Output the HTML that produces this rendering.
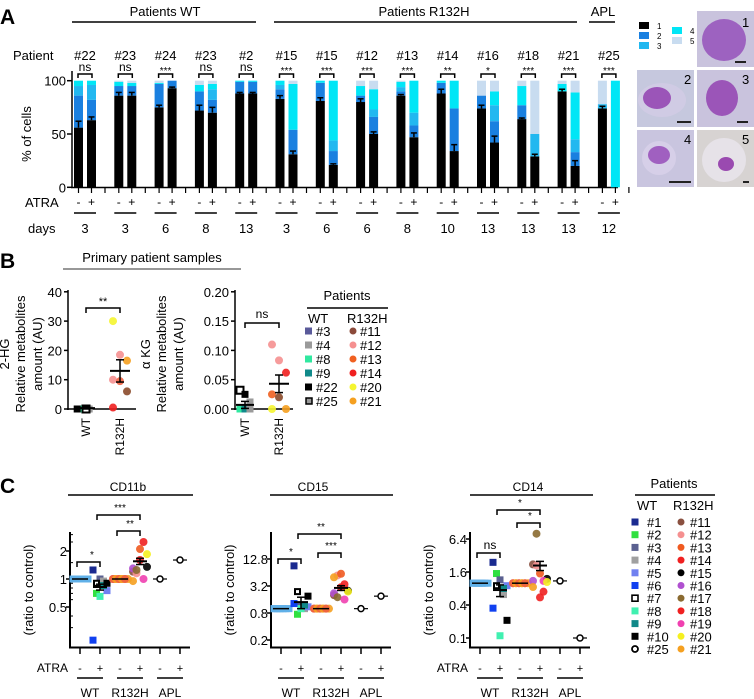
<!DOCTYPE html>
<html><head><meta charset="utf-8">
<style>
html,body{margin:0;padding:0;background:#fff;}
svg{display:block;font-family:"Liberation Sans",Arial,sans-serif;}
</style></head>
<body>
<svg id="fig" width="754" height="699" viewBox="0 0 754 699" xmlns="http://www.w3.org/2000/svg">
  <g id="cells">
    <rect x="697" y="11" width="57" height="56" fill="#c9c3dd"/>
    <ellipse cx="724" cy="40" rx="22" ry="21" fill="#9d62c0"/>
    <text x="742" y="27" font-size="13">1</text>
    <rect x="735" y="61" width="11" height="2" fill="#222"/>
    <rect x="637" y="70" width="57" height="57" fill="#c6c8de"/>
    <ellipse cx="662" cy="100" rx="24" ry="17" fill="#d0cbe4"/>
    <ellipse cx="657" cy="98" rx="14" ry="11" fill="#9b55b8"/>
    <text x="684" y="84" font-size="13">2</text>
    <rect x="677" y="121" width="14" height="2" fill="#222"/>
    <rect x="697" y="70" width="57" height="57" fill="#c9c3dd"/>
    <ellipse cx="722" cy="98" rx="16" ry="18" fill="#9b55b8"/>
    <text x="742" y="84" font-size="13">3</text>
    <rect x="737" y="121" width="11" height="2" fill="#222"/>
    <rect x="637" y="130" width="57" height="57" fill="#c9c5df"/>
    <circle cx="659" cy="158" r="17" fill="#d6cfe8"/>
    <ellipse cx="659" cy="155" rx="11" ry="9" fill="#a060c0"/>
    <text x="684" y="144" font-size="13">4</text>
    <rect x="669" y="181" width="22" height="2" fill="#222"/>
    <rect x="697" y="130" width="57" height="57" fill="#d7d3d2"/>
    <circle cx="724" cy="160" r="22" fill="#e6e2e8"/>
    <ellipse cx="726" cy="164" rx="8" ry="7" fill="#9a4ab0"/>
    <text x="742" y="144" font-size="13">5</text>
    <rect x="743" y="181" width="6" height="2" fill="#222"/>
  </g>
</svg>
<script>
// ---------- Panel A data ----------
const aPatients = ['#22','#23','#24','#23','#2','#15','#15','#12','#13','#14','#16','#18','#21','#25'];
const aDays = ['3','3','6','8','13','3','6','6','8','10','13','13','13','12'];
const aSig = ['ns','ns','***','ns','ns','***','***','***','***','**','*','***','***','***'];
const aMinus = [[56,30,9,5,0],[86,9,0,4,1],[75,22,0,1,2],[72,18,0,6,4],[88,11,0,1,0],[83,9,4,4,0],[81,17,0,2,0],[80,6,0,9,5],[86,4,4,5,1],[88,10,0,2,0],[74,12,0,0,14],[64,13,0,18,5],[90,0,0,7,3],[74,0,4,0,22]];
const aPlus = [[63,19,14,4,0],[86,9,0,3,2],[93,7,0,0,0],[70,12,10,5,3],[88,11,0,1,0],[31,23,0,43,3],[21,13,10,56,0],[50,16,7,19,8],[47,11,12,30,0],[34,40,0,26,0],[42,20,15,13,10],[29,0,21,0,50],[20,13,12,44,11],[0,0,0,100,0]];
const aErrMinus = [6,3,2,5,1,3,3,3,1,4,3,1,2,2];
const aErrPlus = [3,3,1,5,1,3,1,2,4,6,6,2,5,0];
const aTicks = [0,50,100];
const segColors = ['#000000','#1a80e0','#22b8f0','#00e6f6','#c8dcf0'];
const segNames = ['1','2','3','4','5'];

// ---------- Panel B data ----------
const bWTColors = ['#5a5a9a','#9a9a9a','#30e8a0','#108a8a','#000000','#9a9a9a'];
const bHGWT = [0,0,0,0,0,0];
const bHGR = [30,18.5,16.5,10,9.5,6,0.5];
const bHGRColors = ['#f5f530','#f59090','#f5a020','#f59090','#f06040','#8b4a2a','#f02020'];
const bHGMean = [0.3,13];
const bHGErr = [0.3,3.8];
const bKGWT = [0.032,0.025,0.012,0,0,0];
const bKGWTColors = ['#ffffff','#000000','#9a9a9a','#30e8a0','#108a8a','#9a9a9a'];
const bKGR = [0.11,0.083,0.062,0.025,0.02,0,0];
const bKGRColors = ['#f59090','#f59090','#f02020','#f06020','#8b4a2a','#f5a020','#f5f530'];
const bKGMean = [0.007,0.043];
const bKGErr = [0.006,0.015];
const bHGTicks = [0,10,20,30,40];
const bKGTicks = [0,0.05,0.10,0.15,0.20];
const bKGTickLabels = ['0.00','0.05','0.10','0.15','0.20'];

// ---------- Panel C data ----------
const wtIds = ['#1','#2','#3','#4','#5','#6','#7','#8','#9','#10'];
const wtCols = ['#1a2a90','#30e040','#5a6090','#a0a0a0','#7080f0','#1040f0','open','#40f0b0','#108888','#000000'];
const rIds = ['#11','#12','#13','#14','#15','#16','#17','#18','#19','#20','#21'];
const rCols = ['#8a5040','#f59090','#f05a20','#f02020','#000000','#b050d0','#8a6a30','#f02020','#f040b0','#f5f020','#f5a020'];
const c1WTplus = [1.25,0.7,1.0,0.95,0.75,0.22,0.9,0.65,0.85,0.9];
const c1Rplus = [1.2,1.15,2.1,2.5,1.35,1.3,1.25,1.6,1.0,1.85,0.95];
const c1APL = [1,1.6];
const c1Mean = [1,0.82,1,1.55,1,1.6];
const c1Err = [0,0.06,0,0.12,0,0];
const c2WTplus = [9,0.75,1.2,1.0,1.1,1.3,2.4,1.0,1.2,1.9];
const c2Rplus = [2.0,5.5,6.0,3.5,2.5,2.2,1.8,3.0,1.6,2.4,5.0];
const c2APL = [1,1.9];
const c2Mean = [1,1.4,1,2.9,1,1.9];
const c2Err = [0,0.4,0,0.35,0,0];
const c3WTplus = [2.4,1.5,1.15,0.62,0.9,0.35,0.9,0.11,0.8,0.21];
const c3Rplus = [2.2,2.1,1.5,0.7,1.2,1.1,8.0,0.55,1.1,1.05,0.85];
const c3APL = [1.1,0.1];
const c3Mean = [1,0.75,1,2.1,1,1];
const c3Err = [0,0.18,0,0.4,0,0];
const c1Ticks = [0.5,1,2];
const c1TickLabels = ['0.5','1','2'];
const c2Ticks = [0.2,0.8,3.2,12.8];
const c2TickLabels = ['0.2','0.8','3.2','12.8'];
const c3Ticks = [0.1,0.4,1.6,6.4];
const c3TickLabels = ['0.1','0.4','1.6','6.4'];

const NS='http://www.w3.org/2000/svg';
const svg=document.getElementById('fig');
function mk(tag, attrs, parent){const e=document.createElementNS(NS,tag);for(const k in attrs)e.setAttribute(k,attrs[k]);(parent||svg).appendChild(e);return e;}
function txt(x,y,s,size,anchor,extra){const e=mk('text',Object.assign({x:x,y:y,'font-size':size,'text-anchor':anchor||'middle'},extra||{}));e.textContent=s;return e;}
function line(x1,y1,x2,y2,w){return mk('line',{x1:x1,y1:y1,x2:x2,y2:y2,stroke:'#000','stroke-width':w||1.5});}
let el;

// ================= PANEL A =================
el=txt(0,24,'A',21,'start',{'font-weight':'bold'});


el=txt(165,16,'Patients WT',13);


el=line(72,22,256,22);


el=txt(424,16,'Patients R132H',13);


el=line(274,22,577,22);


el=txt(603,16,'APL',13);


el=line(589,22,615,22);


el=txt(13,60,'Patient',13,'start');


el=txt(25,207,'ATRA',13,'start');


el=txt(28,233,'days',13,'start');



const aY=v=>187.3-1.066*v;
const aX0=g=>74+40.3*g;
el=line(72,71,72,188);


el=line(71,187.5,618,187.5);


aTicks.forEach(t=>{
  el=line(67,aY(t),72,aY(t));
  
  
  el=txt(66,aY(t)+5,String(t),13,'end');
  
  
});
el=txt(0,0,'% of cells',13,'middle',{transform:'translate(31,134) rotate(-90)'});



function drawStack(x,stack,err,name){
  let cum=0;
  stack.forEach((v,i)=>{
    if(v<=0){return;}
    el=mk('rect',{x:x,y:aY(cum+v),width:9,height:aY(cum)-aY(cum+v),fill:segColors[i]});
    
    
    cum+=v;
  });
  if(stack[0]>0){
    el=line(x+4.5,aY(stack[0]),x+4.5,aY(stack[0]+err),1.5);
    
    
    el=line(x+1.5,aY(stack[0]+err),x+7.5,aY(stack[0]+err),1.5);
    
    
  }
}
aPatients.forEach((p,g)=>{
  const x0=aX0(g), cx=x0+11;
  el=txt(cx,60,p,13);
  
  
  drawStack(x0,aMinus[g],aErrMinus[g],'bar-minus-'+g);
  drawStack(x0+13,aPlus[g],aErrPlus[g],'bar-plus-'+g);
  el=txt(cx,aSig[g]==='ns'?71:74,aSig[g],aSig[g]==='ns'?12:10);
  
  
  el=mk('path',{d:`M${x0+4},78 V74 H${x0+18} V78`,fill:'none',stroke:'#000','stroke-width':1.5});
  
  
  [x0+4.5,x0+17.5,x0+31].forEach(tx=>{
    el=line(tx,187,tx,193,1.2);
    
    
  });
  el=txt(x0+4.5,206,'-',12);
  
  
  el=txt(x0+17.5,206,'+',12);
  
  
  el=line(x0,213,x0+22,213,1.5);
  
  
  el=txt(cx,233,aDays[g],13);
  
  
});
// legend A
[[639,22,0],[639,32,1],[639,42,2],[672,27,3],[672,37,4]].forEach(([x,y,i])=>{
  el=mk('rect',{x:x,y:y,width:10,height:7,fill:segColors[i]});
  
  
  el=txt(x+18,y+7,segNames[i],8,'start');
  
  
});

// ================= PANEL B =================
el=txt(0,268,'B',21,'start',{'font-weight':'bold'});


el=txt(152,262,'Primary patient samples',13);


el=mk('line',{x1:63,y1:269,x2:241,y2:269,stroke:'#777','stroke-width':1.5});



function sq(x,y,col,s,name){
  s=s||7;
  if(col==='open'||col==='#ffffff'){el=mk('rect',{x:x-s/2+1,y:y-s/2+1,width:s-2,height:s-2,fill:'#fff',stroke:'#000','stroke-width':2});}
  else {el=mk('rect',{x:x-s/2,y:y-s/2,width:s,height:s,fill:col});}
  
  
}
function circ(x,y,col,r,name){
  if(col==='open'){el=mk('circle',{cx:x,cy:y,r:3,fill:'#fff',stroke:'#000','stroke-width':1.5});}
  else {el=mk('circle',{cx:x,cy:y,r:r||4,fill:col,'fill-opacity':0.9});}
  
  
}
function meanErr(x,ym,ylo,yhi,hw,name){
  el=line(x-hw,ym,x+hw,ym,2);
  
  
  el=line(x,ylo,x,yhi,1.5);
  
  
  el=line(x-4,ylo,x+4,ylo,1.5);
  
  
  el=line(x-4,yhi,x+4,yhi,1.5);
  
  
}
const jit=(i)=>((i%2?1:-1)*Math.ceil(i/2)*3);

// B1
const bY1=v=>409-2.93*v;
el=line(68,290,68,410);


el=line(67,409,136,409);


bHGTicks.forEach(t=>{
  el=line(64,bY1(t),68,bY1(t));
  
  
  el=txt(62,bY1(t)+5,String(t),13,'end');
  
  
});
el=txt(0,0,'2-HG',13,'middle',{transform:'translate(9,354) rotate(-90)'});


el=txt(0,0,'Relative metabolites',13,'middle',{transform:'translate(25,354) rotate(-90)'});


el=txt(0,0,'amount (AU)',13,'middle',{transform:'translate(42,354) rotate(-90)'});


bHGWT.forEach((v,i)=>{ sq(82+jit(i)*0.8,bY1(v),bWTColors[i],7,'b1-wt-point'); });
sq(86,bY1(0),'open',9,'b1-wt-point-25');
bHGR.forEach((v,i)=>{ circ(120+((i%3)-1)*7,bY1(v),bHGRColors[i],4,'b1-r132h-point'); });
meanErr(86,bY1(bHGMean[0]),bY1(bHGMean[0]-bHGErr[0]),bY1(bHGMean[0]+bHGErr[0]),9,'b1-wt');
meanErr(120,bY1(bHGMean[1]),bY1(bHGMean[1]-bHGErr[1]),bY1(bHGMean[1]+bHGErr[1]),10,'b1-r132h');
el=mk('path',{d:'M86,313 V308 H120 V313',fill:'none',stroke:'#000','stroke-width':1.5});


el=txt(103,305,'**',11);


el=txt(0,0,'WT',12,'end',{transform:'translate(90,418) rotate(-90)'});


el=txt(0,0,'R132H',12,'end',{transform:'translate(124,418) rotate(-90)'});



// B2
const bY2=v=>409-586*v;
el=line(235,290,235,410);


el=line(234,409,293,409);


bKGTicks.forEach((t,i)=>{
  el=line(231,bY2(t),235,bY2(t));
  
  
  el=txt(229,bY2(t)+5,bKGTickLabels[i],13,'end');
  
  
});
el=txt(0,0,'α KG',13,'middle',{transform:'translate(150,354) rotate(-90)'});


el=txt(0,0,'Relative metabolites',13,'middle',{transform:'translate(166,354) rotate(-90)'});


el=txt(0,0,'amount (AU)',13,'middle',{transform:'translate(183,354) rotate(-90)'});


bKGWT.forEach((v,i)=>{ sq(245+((i%3)-1)*5,bY2(v),bKGWTColors[i],i===0?9:7,'b2-wt-point'); });
bKGR.forEach((v,i)=>{ circ(279+((i%3)-1)*7,bY2(v),bKGRColors[i],4,'b2-r132h-point'); });
meanErr(245,bY2(bKGMean[0]),bY2(bKGMean[0]-bKGErr[0]),bY2(bKGMean[0]+bKGErr[0]),9,'b2-wt');
meanErr(279,bY2(bKGMean[1]),bY2(bKGMean[1]-bKGErr[1]),bY2(bKGMean[1]+bKGErr[1]),10,'b2-r132h');
el=mk('path',{d:'M245,328 V323 H279 V328',fill:'none',stroke:'#000','stroke-width':1.5});


el=txt(262,318,'ns',12);


el=txt(0,0,'WT',12,'end',{transform:'translate(249,418) rotate(-90)'});


el=txt(0,0,'R132H',12,'end',{transform:'translate(283,418) rotate(-90)'});



// legend B
const bLegWT=['#3','#4','#8','#9','#22','#25'];
const bLegWTCol=['#5a5a9a','#9a9a9a','#30e8a0','#108a8a','#000000','gray25'];
const bLegR=['#11','#12','#13','#14','#20','#21'];
const bLegRCol=['#8b4a3a','#f59090','#f06020','#f02020','#f5f530','#f5a020'];
el=txt(347,300,'Patients',13);


el=line(307,308,388,308,1.5);


el=txt(308,323,'WT',13,'start');


el=txt(347,323,'R132H',13,'start');


bLegWT.forEach((p,i)=>{
  const y=331+14*i;
  if(bLegWTCol[i]==='gray25'){el=mk('rect',{x:306,y:y-3,width:6,height:6,fill:'#999',stroke:'#000','stroke-width':1.5});}
  else{el=mk('rect',{x:305,y:y-3.5,width:7,height:7,fill:bLegWTCol[i]});}
  
  
  el=txt(316,y+5,p,13,'start');
  
  
  el=mk('circle',{cx:353,cy:y,r:3.5,fill:bLegRCol[i]});
  
  
  el=txt(360,y+5,bLegR[i],13,'start');
  
  
});

// ================= PANEL C =================
el=txt(0,493,'C',21,'start',{'font-weight':'bold'});



function cPanel(cfg){
  const {ax,yf,ticks,tickLabels,title,titleX,lineX1,lineX2,wtp,rp,apl,mean,err,sigs,atraLabel,pref}=cfg;
  const X=i=>ax+10+20*i;
  el=txt(titleX,491,title,12);
  
  
  el=line(lineX1,495,lineX2,495,1.5);
  
  
  el=line(ax,532,ax,648,2);
  
  
  el=line(ax-1,647.5,ax+120,647.5,2);
  
  
  ticks.forEach((t,i)=>{
    el=line(ax-4,yf(t),ax,yf(t),1.5);
    
    
    el=txt(ax-3,yf(t)+5,tickLabels[i],13,'end');
    
    
  });
  el=txt(0,0,'(ratio to control)',13,'middle',{transform:`translate(${ax-37},590) rotate(-90)`});
  
  
  for(let i=0;i<6;i++){
    el=line(X(i),647,X(i),654,1.5);
    
    
    el=txt(X(i),672,i%2?'+':'-',11);
    
    
  }
  ['WT','R132H','APL'].forEach((g,k)=>{
    el=line(X(2*k)-3,678,X(2*k+1)+3,678,1.5);
    
    
    el=txt((X(2*k)+X(2*k+1))/2,697,g,12);
    
    
  });
  if(atraLabel){
    el=txt(ax-2,672,'ATRA',12,'end');
    
    
  }
  wtCols.forEach((c,i)=>{ sq(X(0)-7+(i%6)*3,yf(1),i<5?'#5aa0e0':'#60b0e8',7,pref+'-wt-minus-point'); });
  wtp.forEach((v,i)=>{ sq(X(1)+((i%5)-2)*3.5,yf(v),wtCols[i],7,pref+'-wt-plus-point-'+wtIds[i].slice(1)); });
  rCols.forEach((c,i)=>{ circ(X(2)-7+(i%6)*3,yf(1),i%2?'#f5a020':'#f06040',4,pref+'-r132h-minus-point'); });
  rp.forEach((v,i)=>{ circ(X(3)+((i%5)-2)*3.5,yf(v),rCols[i],4,pref+'-r132h-plus-point-'+rIds[i].slice(1)); });
  apl.forEach((v,i)=>{
    el=line(X(4+i)-7,yf(v),X(4+i)+7,yf(v),1.2);
    
    
    circ(X(4+i),yf(v),'open',3,pref+'-apl-point');
  });
  mean.forEach((m,i)=>{
    if(i>=4)return;
    if(err[i]>0){ meanErr(X(i),yf(m),yf(m-err[i]),yf(m+err[i]),7,pref+'-col'+i); }
    else { el=line(X(i)-8,yf(m),X(i)+8,yf(m),1.5);   }
  });
  sigs.forEach(s=>{
    el=mk('path',{d:`M${X(s[0])-3},${s[2]+5} V${s[2]} H${X(s[1])} V${s[2]+5}`,fill:'none',stroke:'#000','stroke-width':1.5});
    
    
    el=txt(s[4]!==undefined?s[4]:(X(s[0])+X(s[1]))/2,s[2]-4,s[3],s[3]==='ns'?12:10);
    
    
  });
}
const yC1=v=>579-28*Math.log2(v);
const yC2=v=>613-13.5*Math.log2(v/0.8);
const yC3=v=>572-16.5*Math.log2(v/1.6);
cPanel({ax:70,yf:yC1,ticks:c1Ticks,tickLabels:c1TickLabels,title:'CD11b',titleX:128,lineX1:68,lineX2:193,wtp:c1WTplus,rp:c1Rplus,apl:c1APL,mean:c1Mean,err:c1Err,
  sigs:[[0,1,562,'*',92],[2,3,531,'**'],[1,3,515,'***']],atraLabel:true,pref:'cd11b'});
[0.3,0.4,0.6,0.7,0.8,0.9,1.5,2.5,3].forEach(v=>{
  el=line(70,yC1(v),73,yC1(v),1);
  
  
});
cPanel({ax:271,yf:yC2,ticks:c2Ticks,tickLabels:c2TickLabels,title:'CD15',titleX:313,lineX1:270,lineX2:393,wtp:c2WTplus,rp:c2Rplus,apl:c2APL,mean:c2Mean,err:c2Err,
  sigs:[[0,1,559,'*'],[1,3,534,'**'],[2,3,553,'***']],atraLabel:false,pref:'cd15'});
cPanel({ax:470,yf:yC3,ticks:c3Ticks,tickLabels:c3TickLabels,title:'CD14',titleX:528,lineX1:470,lineX2:593,wtp:c3WTplus,rp:c3Rplus,apl:c3APL,mean:c3Mean,err:c3Err,
  sigs:[[0,1,553,'ns'],[1,3,510,'*'],[2,3,523,'*']],atraLabel:true,pref:'cd14'});

// legend C
el=txt(674,488,'Patients',13);


el=line(635,495,715,495,1.5);


el=txt(637,510,'WT',13,'start');


el=txt(673,510,'R132H',13,'start');


const cLegWT=wtIds.concat(['#25']);
cLegWT.forEach((p,i)=>{
  const y=522+12.7*i;
  if(p==='#25'){el=mk('circle',{cx:635,cy:y,r:3,fill:'#fff',stroke:'#000','stroke-width':1.8});}
  else if(wtCols[i]==='open'){el=mk('rect',{x:632,y:y-3,width:6,height:6,fill:'#fff',stroke:'#000','stroke-width':1.6});}
  else{el=mk('rect',{x:631.5,y:y-3.5,width:7,height:7,fill:wtCols[i]});}
  
  
  el=txt(647,y+5,p,13,'start');
  
  
  el=mk('circle',{cx:681,cy:y,r:3.5,fill:rCols[i]});
  
  
  el=txt(690,y+5,rIds[i],13,'start');
  
  
});
svg.appendChild(document.getElementById('cells'));
</script>
</body></html>
